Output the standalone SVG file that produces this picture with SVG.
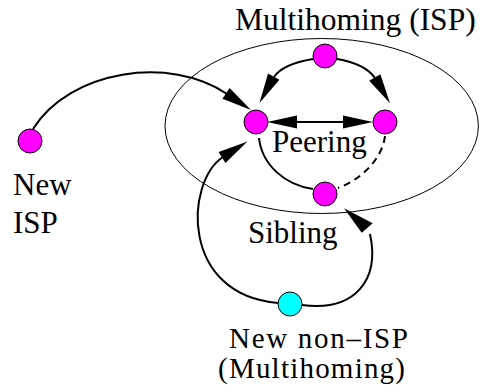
<svg xmlns="http://www.w3.org/2000/svg" width="481" height="385" viewBox="0 0 481 385">
<style>
.node{stroke:#000;stroke-width:1}
.isp{fill:#ff00ff}
.non{fill:#00ffff}
.edge{fill:none;stroke:#000;stroke-width:2}
.dash{stroke-dasharray:7 5}
.head{fill:#000;stroke:none}
</style>
<ellipse cx="321.7" cy="126" rx="156.7" ry="87.5" fill="none" stroke="#000" stroke-width="1"/>
<g id="connectors">
<path class="edge" d="M33,129 C70,70 170,55 227,94"/>
<polygon class="head" points="251,110 222.4,98.8 229.6,88"/>
<path class="edge" d="M313,59 C295,62 280,68 274,77"/>
<polygon class="head" points="259.5,103 268,73.5 279.4,79.8"/>
<path class="edge" d="M337,59 C355,62 368,68 375,78"/>
<polygon class="head" points="390,103.3 369.2,80.8 380.4,74.2"/>
<path class="edge" d="M296,122 L344,122"/>
<polygon class="head" points="267,122 297,115.5 297,128.5"/>
<polygon class="head" points="373,122 343,115.5 343,128.5"/>
<path class="edge" d="M259,138 C262,165 285,185 313,189"/>
<path class="edge dash" d="M385,136 C382,160 360,180 338,188"/>
<path class="edge" d="M278,303 C180,295 185,182 223,157"/>
<polygon class="head" points="247.5,141.5 218.6,151.9 225.4,162.9"/>
<path class="edge" d="M302,305 C355,312 380,280 370,234"/>
<polygon class="head" points="344,208.3 361.7,232.7 372.7,223.3"/>
</g>
<g id="node-multihoming"><circle class="node isp" cx="325" cy="56" r="12"/></g>
<g id="node-left"><circle class="node isp" cx="256" cy="122" r="12"/></g>
<g id="node-right"><circle class="node isp" cx="385" cy="122" r="12"/></g>
<g id="node-bottom"><circle class="node isp" cx="325" cy="194" r="12"/></g>
<g id="node-newisp"><circle class="node isp" cx="30" cy="141" r="12"/></g>
<g id="node-nonisp"><circle class="node non" cx="290" cy="304" r="12"/></g>
<g id="labels" font-family="Liberation Serif, Times New Roman, Times, serif" font-size="31" fill="#000">
<text x="235" y="30" font-size="31.5">Multihoming (ISP)</text>
<text x="272" y="152">Peering</text>
<text x="248" y="243">Sibling</text>
<text x="13" y="195">New</text>
<text x="13" y="233">ISP</text>
<text x="229" y="348" font-size="29" textLength="179" lengthAdjust="spacing">New non–ISP</text>
<text x="218" y="378" font-size="29" textLength="187" lengthAdjust="spacing">(Multihoming)</text>
</g>
</svg>
